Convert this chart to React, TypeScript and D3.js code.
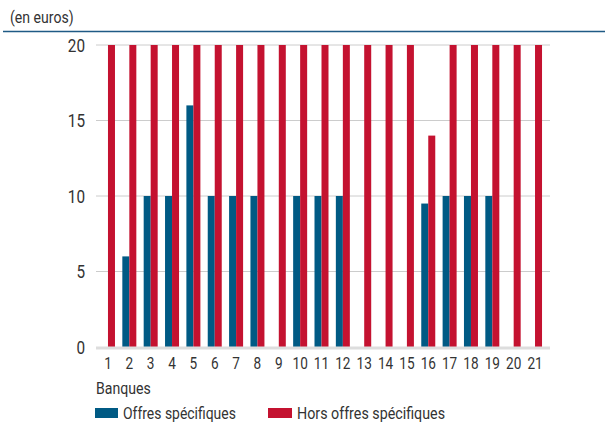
import React from "react";
import * as d3 from "d3";

const categories = ["1","2","3","4","5","6","7","8","9","10","11","12","13","14","15","16","17","18","19","20","21"];
const offresSpecifiques = [0,6,10,10,16,10,10,10,0,10,10,10,0,0,0,9.5,10,10,10,0,0];
const horsOffres = [20,20,20,20,20,20,20,20,20,20,20,20,20,20,20,14,20,20,20,20,20];
const yTicks = [0,5,10,15,20];
const seriesNames = ["Offres spécifiques", "Hors offres spécifiques"];

const BLUE = "#005a84";
const RED = "#c41230";
const FONT = "'Roboto', 'Liberation Sans', sans-serif";
const TXT = "#333333";

function T({ x, y, size, sx = 0.85, anchor = "start", children }: any) {
  return (
    <text transform={`translate(${x},${y}) scale(${sx},1)`} textAnchor={anchor} fontSize={size} fill={TXT}>
      {children}
    </text>
  );
}

export default function App() {
  const W = 605, H = 423;
  const x = d3.scaleBand<string>().domain(categories).range([97.3, 545.7]).paddingInner(0).paddingOuter(0);
  const y = d3.scaleLinear().domain([0, 20]).range([347, 45]);
  const bw = 7;
  return (
    <svg width={W} height={H} style={{ position: "absolute", left: 0, top: 0, fontFamily: FONT }}>
      <T x={10} y={23} size={16} sx={0.88}>(en euros)</T>
      <line x1={3} x2={605} y1={31.5} y2={31.5} stroke="#1f5a85" strokeWidth={1.5} />
      {yTicks.map(t => (
        <g key={t}>
          {t > 0 && <line x1={96} x2={550} y1={y(t)} y2={y(t)} stroke="#cccccc" strokeWidth={1} />}
          <T x={85} y={y(t) + 6.5} size={18} anchor="end">{t}</T>
        </g>
      ))}
      {categories.map((c, i) => {
        const cx = (x(c) as number) + x.bandwidth() / 2;
        return (
          <g key={c}>
            {offresSpecifiques[i] > 0 && (
              <rect x={cx - bw} y={y(offresSpecifiques[i])} width={bw} height={y(0) - y(offresSpecifiques[i])} fill={BLUE} />
            )}
            <rect x={cx} y={y(horsOffres[i])} width={bw} height={y(0) - y(horsOffres[i])} fill={RED} />
            <T x={cx} y={369} size={16} anchor="middle">{c}</T>
          </g>
        );
      })}
      <line x1={96} x2={550} y1={348} y2={348} stroke="#dddddd" strokeWidth={3} />
      <T x={96} y={394} size={17} sx={0.83}>Banques</T>
      <rect x={95} y={408} width={23} height={10} fill={BLUE} />
      <T x={123} y={418.5} size={17} sx={0.82}>{seriesNames[0]}</T>
      <rect x={268} y={408} width={24} height={10} fill={RED} />
      <T x={297} y={418.5} size={17} sx={0.84}>{seriesNames[1]}</T>
    </svg>
  );
}
